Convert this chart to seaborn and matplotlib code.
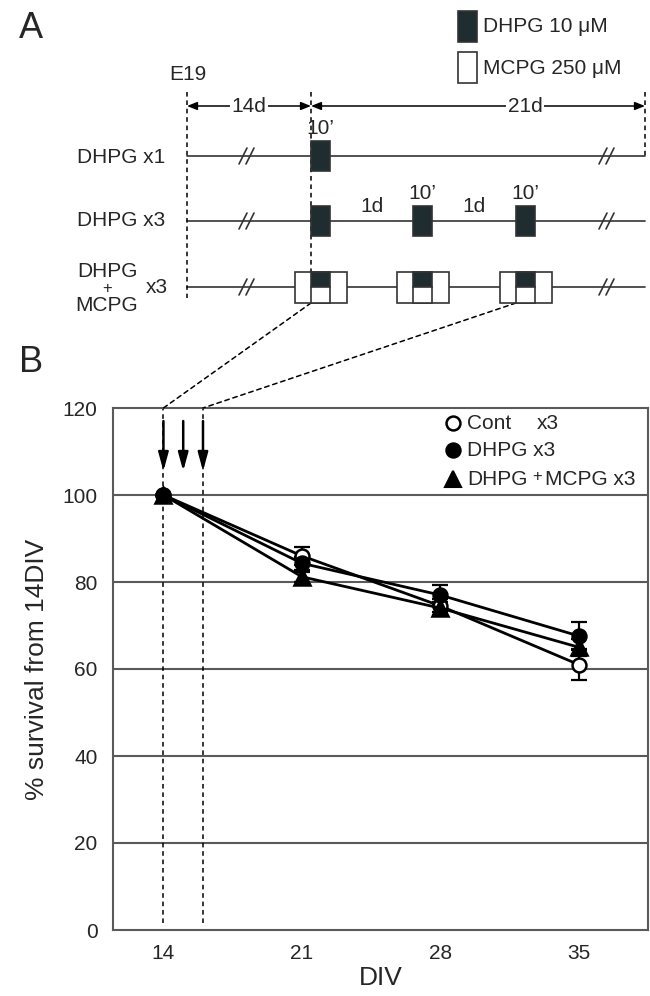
import matplotlib
matplotlib.use("Agg")
import matplotlib.pyplot as plt
from matplotlib.patches import Rectangle, ConnectionPatch
import seaborn as sns
import pandas as pd

# ---------------- data (panel B) ----------------
div = [14, 21, 28, 35]
cont = [100, 86.0, 74.5, 61.0]
cont_err = [0, 2.1, 1.5, 3.5]
dhpg = [100, 84.3, 77.0, 67.6]
dhpg_err = [0, 1.5, 2.3, 3.2]
dhpg_mcpg = [100, 81.2, 74.0, 65.0]
dhpg_mcpg_err = [0, 1.2, 1.5, 2.0]
arrow_days = [14, 15, 16]
dashed_days = [14, 16]
xtick_vals = [14, 21, 28, 35]
ytick_vals = [0, 20, 40, 60, 80, 100, 120]

sns.set_style("white")
plt.rcParams['font.family'] = ['Liberation Sans', 'DejaVu Sans']

DARK = '#1f2d30'
LINEC = '#333333'
GRID = '#5a5a5a'

fig = plt.figure(figsize=(6.5, 9.96), dpi=100)
W, H = 650, 996

# ---------------- panel B axes ----------------
L, R, T, B = 113, 648, 408, 930
axb = fig.add_axes([L / W, 1 - B / H, (R - L) / W, (B - T) / H])
axb.set_xlim(11.45, 38.5)
axb.set_ylim(0, 120)

for y in [20, 40, 60, 80, 100]:
    axb.axhline(y, color=GRID, lw=1.5, zorder=1)
for d in dashed_days:
    axb.plot([d, d], [1.5, 120], color='black', lw=1.1, ls=(0, (3, 2.5)), zorder=2)

series = [
    (cont, cont_err, 'o', 'white', 10),
    (dhpg, dhpg_err, 'o', 'black', 10),
    (dhpg_mcpg, dhpg_mcpg_err, '^', 'black', 12),
]
for vals, errs, mk, fc, ms in series:
    df = pd.DataFrame({'DIV': div, 'surv': vals})
    axb.errorbar(div, vals, yerr=errs, fmt='none', ecolor='black',
                 elinewidth=1.6, capsize=6, capthick=1.6, zorder=3)
    sns.lineplot(data=df, x='DIV', y='surv', ax=axb, color='black', lw=2,
                 marker=mk, markersize=ms, markerfacecolor=fc,
                 markeredgecolor='black', markeredgewidth=1.8, zorder=4)

for d in arrow_days:
    axb.annotate('', xy=(d, 105.5), xytext=(d, 117),
                 arrowprops=dict(arrowstyle='-|>,head_length=1.1,head_width=0.3',
                                 color='black', lw=1.8, mutation_scale=10,
                                 shrinkA=0, shrinkB=0), zorder=5)

axb.set_xticks(xtick_vals)
axb.set_yticks(ytick_vals)
axb.tick_params(axis='both', length=0, labelsize=15)
axb.tick_params(axis='y', pad=11)
axb.tick_params(axis='x', pad=10)
axb.set_xlabel('DIV', fontsize=19, labelpad=2)
axb.set_ylabel('% survival from 14DIV', fontsize=19, labelpad=10)
for s in axb.spines.values():
    s.set_color(GRID)
    s.set_linewidth(1.5)

# ---------------- overlay (panel A + annotations) ----------------
ax0 = fig.add_axes([0, 0, 1, 1], zorder=10)
ax0.set_xlim(0, W)
ax0.set_ylim(H, 0)
ax0.axis('off')
ax0.patch.set_alpha(0)

FS = 15
ax0.text(31, 28, 'A', fontsize=26, ha='center', va='center')
ax0.text(31, 362, 'B', fontsize=26, ha='center', va='center')

# legend A
ax0.add_patch(Rectangle((458, 11), 19, 31, facecolor=DARK, edgecolor=LINEC, lw=1.2))
ax0.add_patch(Rectangle((458, 52), 19, 31, facecolor='white', edgecolor=LINEC, lw=1.2))
ax0.text(483, 26, 'DHPG 10 μM', fontsize=FS, ha='left', va='center')
ax0.text(483, 68, 'MCPG 250 μM', fontsize=FS, ha='left', va='center')

ax0.text(188, 74, 'E19', fontsize=FS, ha='center', va='center')

x0, x1, x2 = 187, 311, 645
dash = (0, (3, 2.5))
ax0.plot([x0, x0], [92, 298], color='black', lw=1.1, ls=dash)
ax0.plot([x1, x1], [92, 272], color='black', lw=1.1, ls=dash)
ax0.plot([x2, x2], [92, 156], color='black', lw=1.1, ls=dash)

ya = 106
for a, b, lab, xc in [(x0, x1, '14d', 249), (x1, x2, '21d', 525)]:
    ax0.annotate('', xy=(a, ya), xytext=(b, ya),
                 arrowprops=dict(arrowstyle='<|-|>,head_length=0.5,head_width=0.2',
                                 color='black', lw=1.1, mutation_scale=12,
                                 shrinkA=0, shrinkB=0))
    ax0.text(xc, ya, lab, fontsize=FS, ha='center', va='center',
             bbox=dict(facecolor='white', edgecolor='none', pad=1))

rows = [156, 221, 287]
for y in rows:
    ax0.plot([x0, x2], [y, y], color=LINEC, lw=1.2, zorder=1)
    for sx in [243, 603]:
        for off in [0, 7]:
            ax0.plot([sx + off - 4, sx + off + 4], [y + 8, y - 8], color=LINEC, lw=1.2)

ax0.text(165, 157, 'DHPG x1', fontsize=FS, ha='right', va='center')
ax0.text(165, 220, 'DHPG x3', fontsize=FS, ha='right', va='center')
ax0.text(107, 271, 'DHPG', fontsize=FS, ha='center', va='center')
ax0.text(107, 288, '+', fontsize=12, ha='center', va='center')
ax0.text(107, 305, 'MCPG', fontsize=FS, ha='center', va='center')
ax0.text(157, 287, 'x3', fontsize=FS, ha='center', va='center')

bw, bh = 19, 30
# row 1
ax0.add_patch(Rectangle((311, rows[0] - bh / 2), bw, bh, facecolor=DARK, edgecolor=LINEC, lw=1.2, zorder=3))
ax0.text(320, 128, '10’', fontsize=FS, ha='center', va='center')
# row 2
for bx in [311, 413, 516]:
    ax0.add_patch(Rectangle((bx, rows[1] - bh / 2), bw, bh, facecolor=DARK, edgecolor=LINEC, lw=1.2, zorder=3))
ax0.text(422, 193, '10’', fontsize=FS, ha='center', va='center')
ax0.text(525, 193, '10’', fontsize=FS, ha='center', va='center')
ax0.text(372, 206, '1d', fontsize=FS, ha='center', va='center')
ax0.text(474, 206, '1d', fontsize=FS, ha='center', va='center')
# row 3
for bx in [311, 413, 516]:
    top = rows[2] - 15.5
    ax0.add_patch(Rectangle((bx - 16.5, top), 52, 31, facecolor='white', edgecolor=LINEC, lw=1.2, zorder=3))
    ax0.add_patch(Rectangle((bx, top), bw, 15.5, facecolor=DARK, edgecolor=LINEC, lw=1.2, zorder=4))
    ax0.add_patch(Rectangle((bx, top + 15.5), bw, 15.5, facecolor='white', edgecolor=LINEC, lw=1.2, zorder=4))

# diagonal connections into panel B
for (px, py), d in [((311, 303), 14), ((516, 303), 16)]:
    con = ConnectionPatch(xyA=(px, py), coordsA=ax0.transData,
                          xyB=(d, 120), coordsB=axb.transData,
                          color='black', lw=1.1, ls=dash)
    fig.add_artist(con)

# legend B
leg_y = [423, 450, 479]
ax0.plot([453], [leg_y[0]], marker='o', ms=10, mfc='white', mec='black', mew=1.8)
ax0.plot([453], [leg_y[1]], marker='o', ms=10, mfc='black', mec='black', mew=1.8)
ax0.plot([453], [leg_y[2]], marker='^', ms=12, mfc='black', mec='black', mew=1.5)
ax0.text(467, leg_y[0], 'Cont', fontsize=FS, ha='left', va='center')
ax0.text(537, leg_y[0], 'x3', fontsize=FS, ha='left', va='center')
ax0.text(467, leg_y[1], 'DHPG x3', fontsize=FS, ha='left', va='center')
ax0.text(467, leg_y[2], 'DHPG', fontsize=FS, ha='left', va='center')
ax0.text(537, leg_y[2] - 3, '+', fontsize=12, ha='center', va='center')
ax0.text(545, leg_y[2], 'MCPG x3', fontsize=FS, ha='left', va='center')

fig.savefig('out.png', dpi=100)
